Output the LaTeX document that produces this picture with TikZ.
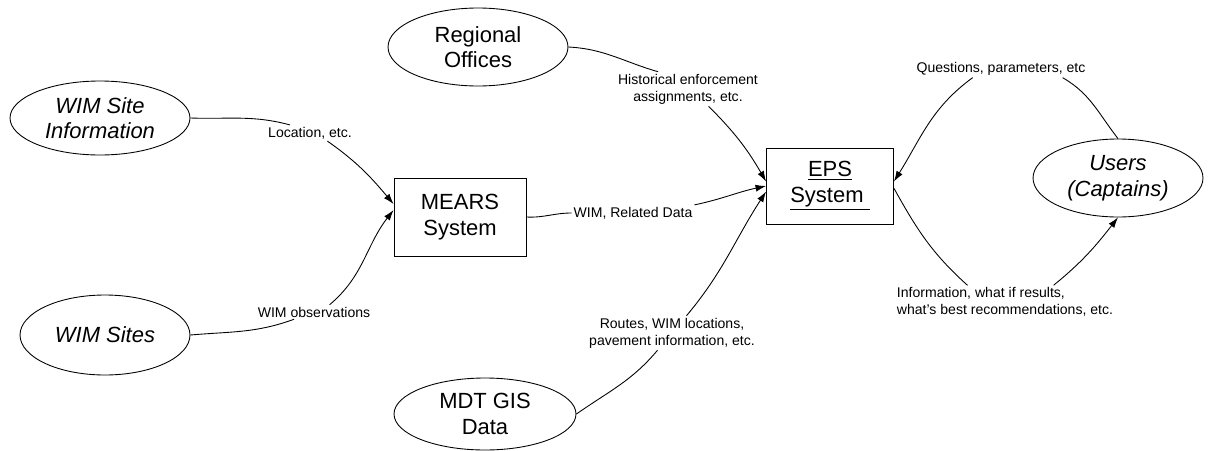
\documentclass[tikz,border=0pt]{standalone}
\usepackage{fontspec}
\setmainfont{Liberation Sans}
\usetikzlibrary{shapes.geometric,arrows.meta}

\begin{document}
\begin{tikzpicture}[
    x=0.02cm, y=-0.02cm,
    font={\fontsize{12.5}{14.5}\selectfont},
    source/.style={ellipse,draw,line width=0.5pt,inner sep=0pt,align=center,minimum width=3.6cm,minimum height=1.5cm},
    process/.style={rectangle,draw,line width=0.5pt,inner sep=0pt,align=center},
    flowlabel/.style={font={\fontsize{8}{9.8}\selectfont},inner sep=1pt,align=center},
    flow/.style={line width=0.5pt},
    data/.style={flow,-{Latex[length=6pt,width=4pt]}},
]
    \useasboundingbox (0,0) rectangle (1227,450);

    % Sources and sinks
    \node[source,minimum height=1.48cm] (wimInfo)  at (100,118) {\itshape WIM Site\\\itshape Information};
    \node[source,minimum width=3.4cm,minimum height=1.6cm] (wimSites) at (105,335) {\itshape WIM Sites};
    \node[source,minimum height=1.56cm] (regional) at (478,47)  {Regional\\Offices};
    \node[source,minimum width=3.64cm,minimum height=1.44cm] (mdt) at (485,414) {MDT GIS\\Data};
    \node[source,minimum width=3.4cm,minimum height=1.56cm] (users) at (1118,178) {\itshape Users\\\itshape (Captains)};

    % Systems
    \node[process,minimum width=2.64cm,minimum height=1.56cm] (mears) at (460,217) {MEARS\\System};
    \node[process,minimum width=2.54cm,minimum height=1.52cm] (eps)   at (830,186) {\underline{EPS}\\\underline{System\ }};

    % Flow labels
    \node[flowlabel] (loc)      at (310,133)  {Location, etc.};
    \node[flowlabel] (obs)      at (314,312)  {WIM observations};
    \node[flowlabel] (hist)     at (688,89)   {Historical enforcement\\assignments, etc.};
    \node[flowlabel] (wimdata)  at (633,213)  {WIM, Related Data};
    \node[flowlabel] (routes)   at (672,333)  {Routes, WIM locations,\\pavement information, etc.};
    \node[flowlabel] (quest)    at (1001,69)  {Questions, parameters, etc};
    \node[flowlabel,align=left] (info) at (1005,302) {Information, what if results,\\what's best recommendations, etc.};

    % Flows into MEARS
    \draw[flow] (wimInfo.east) to[out=-2,in=165] (loc.158);
    \draw[data] (loc.-25) to[out=-35,in=130] (mears.169);
    \draw[flow] (wimSites.east) to[out=5,in=200] (obs.200);
    \draw[data] (obs.25) to[out=40,in=232] (mears.174);

    % Flows into EPS
    \draw[flow] (mears.east) to[out=-3,in=180] (wimdata.west);
    \draw[data] (wimdata.north east) to[out=12,in=192] (eps.180);
    \draw[flow] (regional.east) to[out=-3,in=164] (hist.150);
    \draw[data] (hist.-40) to[out=-45,in=120] (eps.176);
    \draw[flow] (mdt.east) to[out=35,in=230] (routes.-130);
    \draw[data] (routes.50) to[out=50,in=237] (eps.185);

    % Flows between EPS and users
    \draw[flow] (users.north) to[out=128,in=-30] (quest.-8);
    \draw[data] (quest.-163) to[out=216,in=58] (eps.4);
    \draw[flow] (eps.-2) to[out=-61,in=138] (info.156);
    \draw[data] (info.19) to[out=39,in=232] (users.south);

\end{tikzpicture}
\end{document}
